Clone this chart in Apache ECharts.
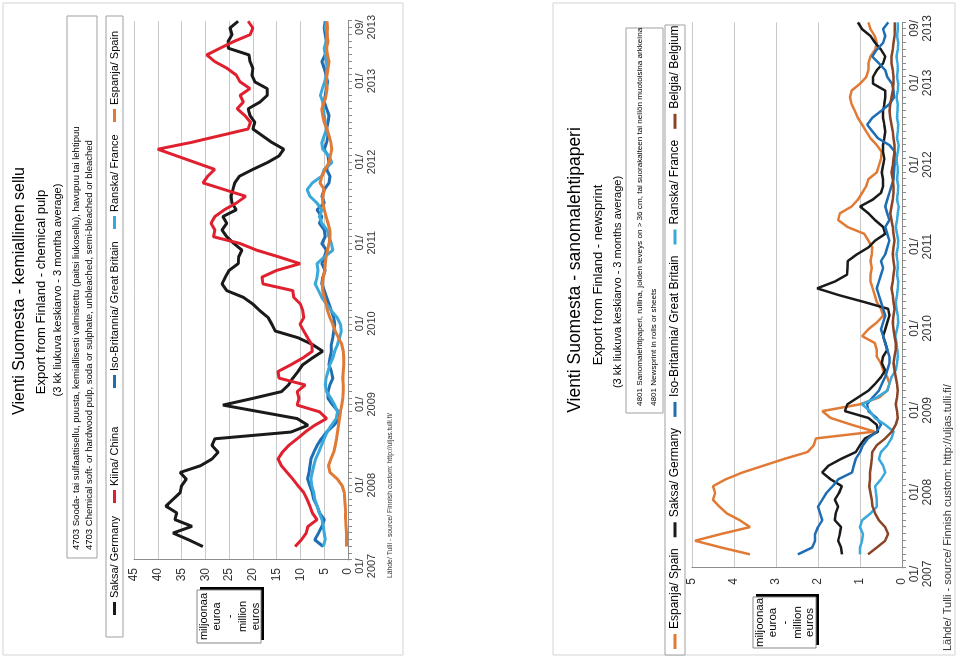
<!DOCTYPE html>
<html><head><meta charset="utf-8">
<script src="https://cdn.jsdelivr.net/npm/echarts@6/dist/echarts.min.js"></script>
<style>
html,body{margin:0;padding:0;background:#fff;overflow:hidden;width:959px;height:657px}
#chart{position:absolute;left:0;top:0;width:657px;height:959px;transform-origin:0 0;transform:translate(0,657px) rotate(-90deg);}
</style></head><body><div id="chart"></div>
<script>
const months = [
'01/2007','02/2007','03/2007','04/2007','05/2007','06/2007','07/2007','08/2007','09/2007','10/2007','11/2007','12/2007',
'01/2008','02/2008','03/2008','04/2008','05/2008','06/2008','07/2008','08/2008','09/2008','10/2008','11/2008','12/2008',
'01/2009','02/2009','03/2009','04/2009','05/2009','06/2009','07/2009','08/2009','09/2009','10/2009','11/2009','12/2009',
'01/2010','02/2010','03/2010','04/2010','05/2010','06/2010','07/2010','08/2010','09/2010','10/2010','11/2010','12/2010',
'01/2011','02/2011','03/2011','04/2011','05/2011','06/2011','07/2011','08/2011','09/2011','10/2011','11/2011','12/2011',
'01/2012','02/2012','03/2012','04/2012','05/2012','06/2012','07/2012','08/2012','09/2012','10/2012','11/2012','12/2012',
'01/2013','02/2013','03/2013','04/2013','05/2013','06/2013','07/2013','08/2013','09/2013'];

// ---- Chart 1: chemical pulp (million euros), 3-month moving average ----
const saksaL = [null,null,
30.5,33.5,36.8,32.8,36.4,36.0,38.3,36.8,35.3,35.0,
34.0,35.3,31.0,28.6,27.3,28.6,28.0,12.0,8.4,10.7,
18.5,26.3,20.0,14.0,12.5,11.6,10.5,9.5,7.5,5.3,
7.5,10.5,15.3,16.0,16.8,18.5,20.0,22.0,25.5,26.5,
25.8,25.0,23.1,23.0,22.3,24.0,25.5,26.5,25.5,26.3,
23.5,24.4,24.6,24.2,23.8,22.8,20.0,17.0,14.5,13.5,
16.0,18.0,20.0,19.6,20.6,21.0,18.5,17.0,17.0,19.6,
20.2,20.0,20.6,20.8,25.2,25.2,24.4,24.8,23.1];
const kiinaL = [null,null,
11.1,9.8,8.8,8.4,6.5,7.5,8.0,8.6,9.3,10.5,
11.6,12.8,14.0,14.7,13.8,12.5,10.7,9.0,7.0,4.5,
6.0,10.7,10.3,10.7,9.0,14.5,14.7,12.0,9.5,7.5,
7.6,8.5,9.3,10.1,9.3,9.5,10.0,11.4,11.6,17.9,
18.1,15.0,10.1,14.5,19.2,22.7,28.3,28.0,28.8,28.0,
26.0,23.5,21.5,26.0,30.5,29.5,28.0,32.0,36.0,40.0,
33.0,27.0,21.0,20.5,21.7,23.3,22.0,22.7,20.6,22.7,
23.5,25.4,28.0,29.7,26.9,24.0,20.6,20.0,21.0];
const isoBritanniaL = [null,null,
5.2,7.0,6.2,5.5,5.0,6.0,6.5,7.2,7.5,8.0,
8.5,8.2,8.0,7.8,7.2,6.5,5.6,4.5,3.0,1.8,
2.0,3.2,4.2,4.2,3.8,3.2,3.5,4.0,3.8,3.5,
3.5,3.2,3.0,2.8,3.0,3.5,4.0,4.5,5.0,5.5,
5.3,4.8,5.5,5.0,4.5,5.5,4.8,5.0,6.0,5.5,
6.5,5.0,5.5,5.0,4.0,3.8,4.5,4.0,4.2,5.0,
4.5,4.2,4.5,4.2,4.0,4.5,5.0,4.8,4.5,4.3,
4.6,5.0,5.5,4.8,4.5,4.5,4.8,5.0,4.8];
const ranskaL = [null,null,
5.2,4.8,5.0,5.2,5.5,6.0,6.5,7.0,7.2,7.6,
7.8,7.5,7.2,6.8,6.2,5.6,5.0,4.4,3.5,2.5,
2.2,2.8,3.6,4.5,4.8,4.6,4.2,3.8,3.2,2.8,
2.2,1.8,1.4,1.6,2.3,3.5,4.5,5.5,6.2,6.9,
6.5,6.3,6.5,5.0,3.2,3.5,4.0,4.4,5.5,6.0,
5.5,6.5,8.0,8.6,7.5,5.5,5.0,3.4,4.0,5.3,
5.5,5.0,4.5,4.8,5.0,5.2,5.3,5.8,5.4,4.9,
4.6,4.4,4.5,4.8,5.0,4.6,4.4,4.8,4.6];
const espanjaL = [null,null,
0.3,0.3,0.3,0.4,0.5,0.5,0.6,0.7,0.8,1.2,
2.2,3.8,4.1,3.6,3.0,2.7,2.4,2.2,2.0,1.8,
1.6,1.3,1.1,1.0,1.0,1.1,1.0,0.9,0.9,1.0,
1.3,2.0,2.7,3.2,3.8,4.3,4.6,5.0,5.3,5.4,
5.2,4.9,4.8,4.6,4.3,4.0,3.8,3.8,4.2,4.6,
5.0,5.3,5.3,5.0,5.9,5.5,4.8,4.0,3.7,3.4,
3.6,4.0,4.4,5.0,5.3,5.5,5.0,4.6,4.4,4.6,
4.4,4.2,4.0,4.3,4.5,4.2,4.4,4.3,4.4];

// ---- Chart 2: newsprint (million euros), 3-month moving average ----
const espanjaR = [null,null,
3.62,4.3,4.93,4.3,3.62,3.86,4.17,4.35,4.5,4.45,
4.5,4.2,3.8,3.3,2.8,2.25,2.1,2.05,0.65,1.2,
1.7,1.9,1.0,0.55,0.35,0.3,0.35,0.45,0.5,0.6,
0.6,0.65,0.95,0.8,0.6,0.45,0.5,0.6,0.65,0.7,
0.75,0.75,0.72,0.75,0.72,0.71,0.8,0.9,1.3,1.52,
1.48,1.2,1.05,0.95,0.85,0.8,0.6,0.55,0.5,0.48,
0.6,0.75,0.85,0.95,1.05,1.12,1.2,1.24,1.2,1.0,
0.85,0.8,0.8,0.75,0.64,0.6,0.65,0.75,0.8];
const saksaR = [null,null,
1.43,1.45,1.52,1.48,1.45,1.6,1.58,1.52,1.6,1.5,
1.43,1.7,1.9,1.75,1.45,1.1,1.0,0.88,0.57,0.6,
0.8,1.36,1.3,1.05,0.8,0.64,0.5,0.4,0.48,0.45,
0.35,0.4,0.45,0.4,0.35,0.3,0.33,0.9,1.5,2.02,
1.6,1.31,1.3,1.29,1.07,0.8,0.64,0.4,0.45,0.64,
0.8,1.0,0.7,0.5,0.45,0.45,0.48,0.45,0.42,0.45,
0.45,0.42,0.4,0.42,0.45,0.45,0.42,0.4,0.4,0.69,
0.69,0.6,0.45,0.4,0.5,0.64,0.75,0.95,1.05];
const isoBritanniaR = [null,null,
2.48,2.14,2.07,2.07,2.0,1.9,1.95,2.0,1.9,1.8,
1.65,1.52,1.19,1.15,1.1,1.0,0.93,0.81,0.6,0.5,
0.6,0.8,0.83,0.7,0.55,0.48,0.4,0.35,0.3,0.3,
0.35,0.4,0.45,0.5,0.45,0.4,0.45,0.5,0.55,0.6,
0.55,0.5,0.45,0.5,0.4,0.35,0.3,0.35,0.4,0.3,
0.35,0.4,0.35,0.3,0.25,0.2,0.19,0.18,0.17,0.17,
0.3,0.57,0.7,0.83,0.71,0.5,0.3,0.19,0.2,0.24,
0.35,0.4,0.55,0.71,0.6,0.45,0.4,0.45,0.33];
const ranskaR = [null,null,
1.0,1.0,0.95,0.93,1.0,0.95,0.75,0.6,0.6,0.62,
0.64,0.5,0.4,0.45,0.55,0.5,0.35,0.25,0.2,0.4,
0.65,0.76,0.95,0.6,0.35,0.3,0.25,0.15,0.12,0.1,
0.11,0.13,0.16,0.12,0.09,0.1,0.13,0.15,0.12,0.1,
0.09,0.12,0.1,0.11,0.13,0.1,0.09,0.12,0.15,0.12,
0.1,0.08,0.12,0.1,0.09,0.12,0.1,0.11,0.13,0.1,
0.08,0.12,0.1,0.09,0.12,0.11,0.1,0.13,0.1,0.09,
0.12,0.1,0.11,0.13,0.1,0.09,0.12,0.1,0.1];
const belgiaR = [null,null,
0.81,0.6,0.4,0.33,0.4,0.55,0.64,0.7,0.72,0.75,
0.78,0.76,0.76,0.74,0.72,0.71,0.6,0.4,0.24,0.15,
0.1,0.12,0.15,0.12,0.1,0.12,0.15,0.18,0.2,0.18,
0.15,0.15,0.18,0.2,0.22,0.2,0.18,0.2,0.22,0.25,
0.22,0.2,0.18,0.2,0.22,0.2,0.18,0.2,0.22,0.25,
0.28,0.25,0.22,0.2,0.2,0.22,0.25,0.22,0.2,0.18,
0.18,0.2,0.22,0.25,0.28,0.3,0.28,0.25,0.22,0.2,
0.2,0.22,0.25,0.25,0.22,0.2,0.18,0.17,0.17];

const C = {saksa:'#1a1a1a', kiina:'#e0202e', iso:'#1f6db3', ranska:'#39a9dc', espanja:'#e07a35', belgia:'#8a4426'};
const N = {saksa:'Saksa/ Germany', kiina:'Kiina/ China', iso:'Iso-Britannia/ Great Britain', ranska:'Ranska/ France', espanja:'Espanja/ Spain', belgia:'Belgia/ Belgium'};
const FONT = '"Liberation Sans", Arial, sans-serif';
const NARROW = '"Liberation Sans Narrow", "Arial Narrow", "Liberation Sans", sans-serif';

function line(key, data, gi, w){
  return {type:'line', name:N[key], data:data, xAxisIndex:gi, yAxisIndex:gi, symbol:'none', showSymbol:false,
    lineStyle:{color:C[key], width:w}, itemStyle:{color:C[key]}, animation:false};
}
function txt(x, y, text, size, align, family, color){
  return {type:'text', x:x, y:y, silent:true, style:{text:text, fontSize:size, fontFamily:family||FONT, fill:color||'#000',
    align:align||'center', verticalAlign:'middle', textAlign:align||'center', textVerticalAlign:'middle'}};
}
function box(x, y, w, h, stroke, lw){
  return {type:'rect', shape:{x:x, y:y, width:w, height:h}, silent:true, style:{fill:'#fff', stroke:stroke||'#a0a0a0', lineWidth:lw||1}};
}
function unitsBox(x, y, w, h, size, lh, first){
  const els = [];
  els.push({type:'rect', shape:{x:x+3, y:y+3, width:w, height:h}, silent:true, style:{fill:'#000'}});
  els.push(box(x, y, w, h, '#888', 1));
  const lines = ['miljoonaa','euroa','-','million','euros'];
  lines.forEach((s,i)=>els.push(txt(x+w/2, y+first+lh*i, s, size, 'center')));
  return els;
}
function legendItem(key, u, v, size){
  return {data:[N[key]], left:u, top:v, icon:'rect', itemWidth:13, itemHeight:3, itemGap:0, padding:0,
    textStyle:{fontSize:size, fontFamily:FONT, color:'#000', padding:[0,0,0,-1]}, selectedMode:false};
}
function catAxis(gi, margin, size){
  return {type:'category', gridIndex:gi, data:months, boundaryGap:false,
    axisLine:{show:true, lineStyle:{color:'#8c8c8c', width:1}},
    axisTick:{show:true, interval:0, length:4, lineStyle:{color:'#8c8c8c'}},
    axisLabel:{interval:function(i){return i%12===0 || i===80;}, formatter:function(v){return v.replace('/', '/\n');},
      fontSize:size, fontFamily:FONT, color:'#333', lineHeight:size+1, margin:margin, padding:[0,12,0,0]},
    splitLine:{show:false}};
}
function valAxis(gi, max, interval, size, margin){
  return {type:'value', gridIndex:gi, min:0, max:max, interval:interval,
    axisLine:{show:true, lineStyle:{color:'#8c8c8c'}}, axisTick:{show:false},
    axisLabel:{fontSize:size, fontFamily:FONT, color:'#333', margin:margin},
    splitLine:{show:true, lineStyle:{color:'#c8c8c8', width:1}}};
}

const graphics = [].concat(
  // left panel
  [box(2, 3, 652, 400, '#d4d4d4', 1),
   txt(366, 20, 'Vienti Suomesta - kemiallinen sellu', 16),
   txt(365, 41, 'Export from Finland - chemical pulp', 13),
   txt(367, 58, '(3 kk liukuva keskiarvo - 3 montha average)', 11),
   box(99, 67, 542, 30, '#a0a0a0', 1),
   txt(107, 76, '4703 Sooda- tai sulfaattisellu, puusta, kemiallisesti valmistettu (paitsi liukosellu), havupuu tai lehtipuu', 9.5, 'left', NARROW),
   txt(107, 89, '4703 Chemical soft- or hardwood pulp, soda or sulphate, unbleached, semi-bleached or bleached', 9.5, 'left', NARROW),
   box(20, 106, 621, 17, '#a0a0a0', 1),
   txt(79, 390, 'Lähde/ Tulli - source/ Finnish custom: http://uljas.tulli.fi/', 6.8, 'left', NARROW, '#333')],
  unitsBox(14, 197, 53, 64, 11, 13, 7),
  // right panel
  [box(2, 553, 652, 402, '#d4d4d4', 1),
   txt(387, 575, 'Vienti Suomesta - sanomalehtipaperi', 17.5),
   txt(382, 598, 'Export from Finland - newsprint', 13),
   txt(375, 618, '(3 kk liukuva keskiarvo - 3 months average)', 11),
   box(244, 626, 385, 37, '#a0a0a0', 1),
   txt(251, 640, '4801 Sanomalehtipaperi, rullina, joiden leveys on > 36 cm, tai suorakaiteen tai neliön muotoisina arkkeina', 8.1, 'left', NARROW),
   txt(251, 654, '4801 Newsprint in rolls or sheets', 8.1, 'left', NARROW),
   box(2, 665, 630, 20, '#a0a0a0', 1),
   txt(6, 948, 'Lähde/ Tulli - source/ Finnish custom: http://uljas.tulli.fi/', 11, 'left', FONT, '#333')],
  unitsBox(9, 753, 51, 63, 11.5, 12.5, 7)
);

const option = {
  animation:false,
  backgroundColor:'#fff',
  grid:[
    {left:97, top:134, width:545, height:214, show:true, borderColor:'#9a9a9a', borderWidth:1, containLabel:false},
    {left:89, top:692, width:551, height:210, show:true, borderColor:'#9a9a9a', borderWidth:1, containLabel:false}
  ],
  xAxis:[catAxis(0, 6, 11), catAxis(1, 6, 12)],
  yAxis:[valAxis(0, 45, 5, 12, 8), valAxis(1, 5, 1, 12, 10)],
  legend:[
    legendItem('saksa', 42, 109, 11), legendItem('kiina', 154, 109, 11), legendItem('iso', 269, 109, 11),
    legendItem('ranska', 428, 109, 11), legendItem('espanja', 535, 109, 11),
    {data:[N.espanja, N.saksa, N.iso, N.ranska, N.belgia], left:8, top:669, orient:'horizontal', icon:'rect',
     itemWidth:15, itemHeight:3, itemGap:11, padding:0, selectedMode:false,
     textStyle:{fontSize:12, fontFamily:FONT, color:'#000'}}
  ],
  graphic:{elements:graphics},
  series:[
    line('saksa', saksaL, 0, 3), line('kiina', kiinaL, 0, 3), line('iso', isoBritanniaL, 0, 3),
    line('ranska', ranskaL, 0, 3), line('espanja', espanjaL, 0, 3),
    line('espanja', espanjaR, 1, 2.5), line('saksa', saksaR, 1, 2.5), line('iso', isoBritanniaR, 1, 2.5),
    line('ranska', ranskaR, 1, 2.5), line('belgia', belgiaR, 1, 2.5)
  ]
};
const chart = echarts.init(document.getElementById('chart'), null, {renderer:'canvas', width:657, height:959});
chart.setOption(option);
</script>
</body></html>
